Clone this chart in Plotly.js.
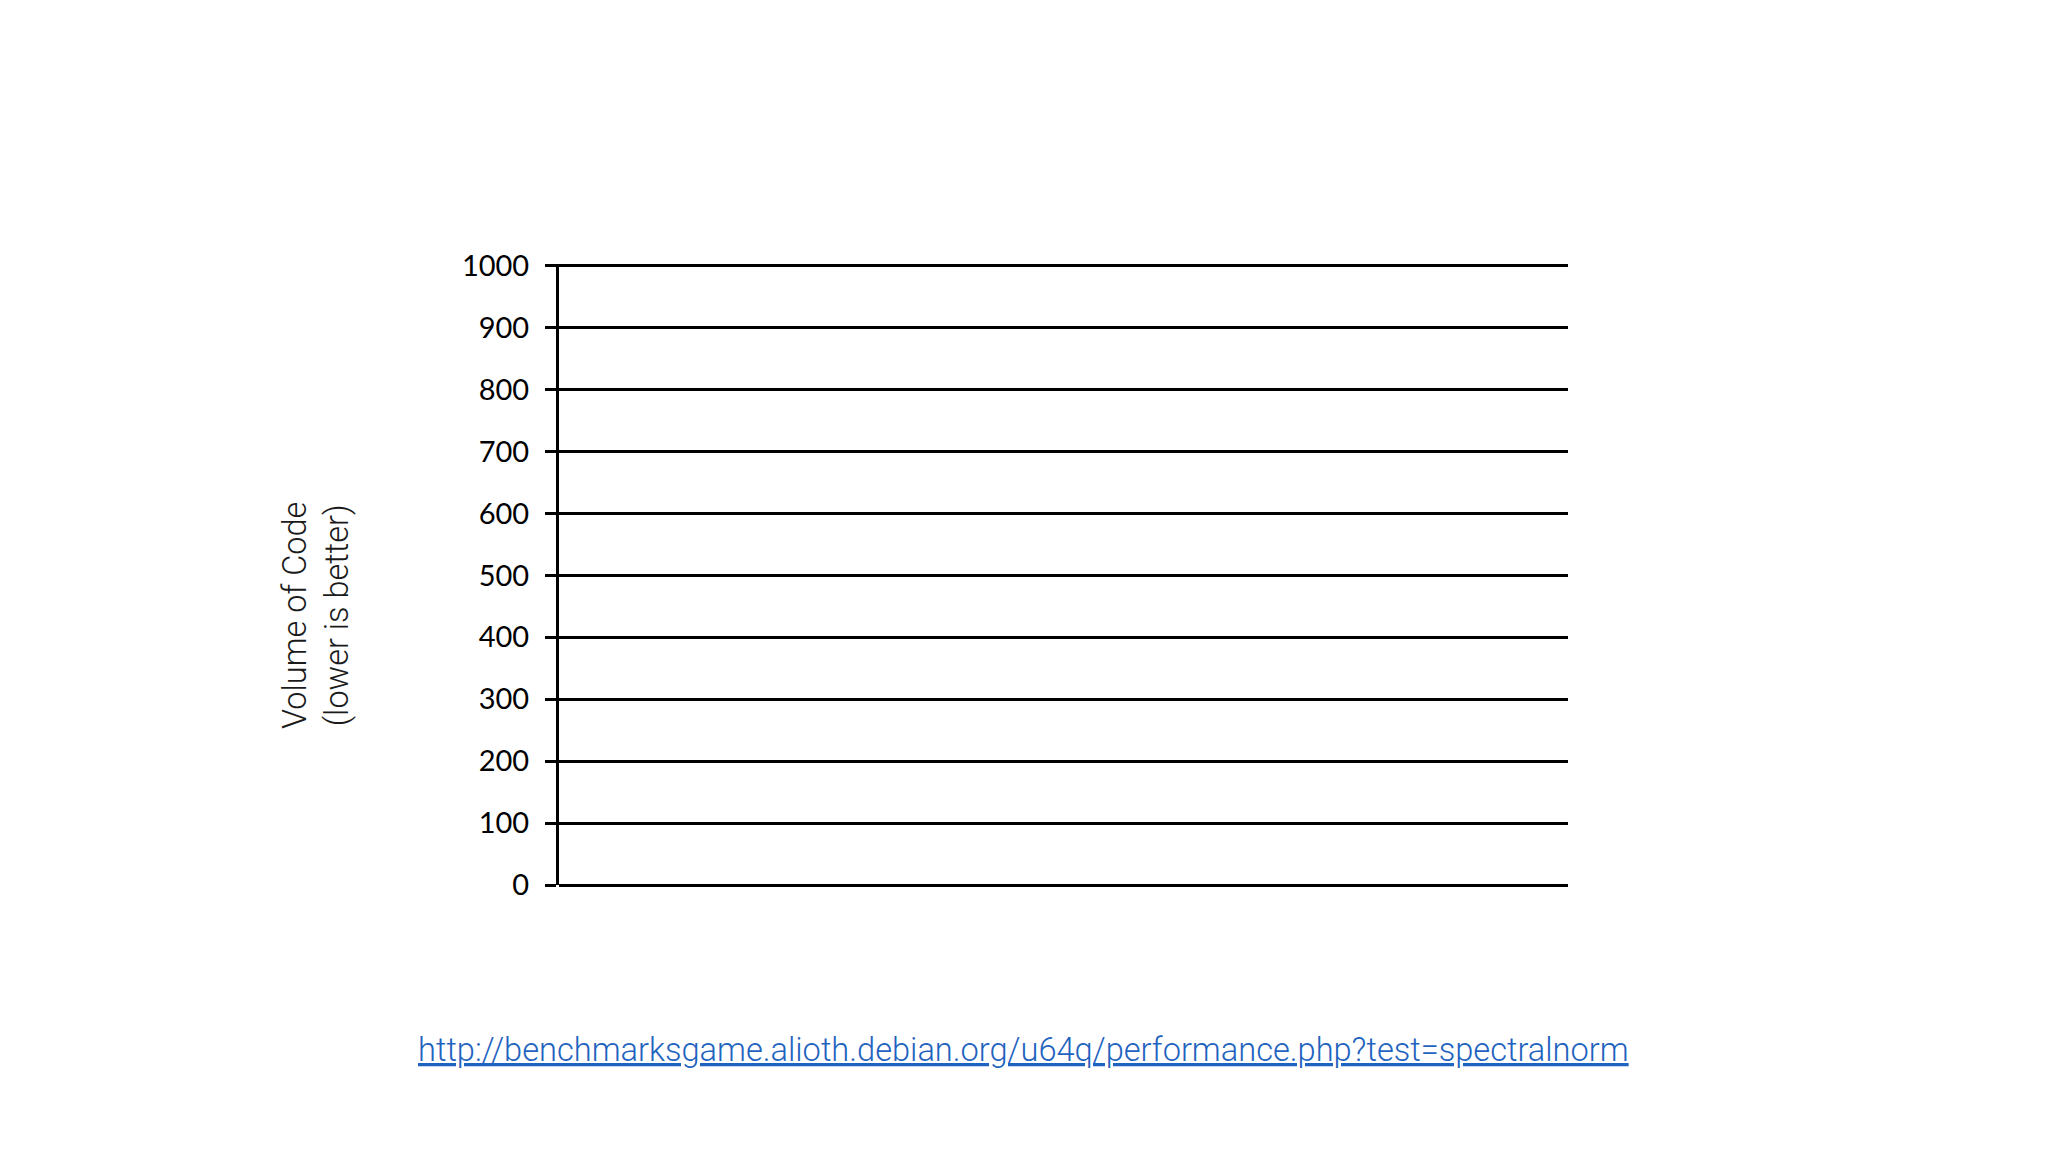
<!DOCTYPE html>
<html>
<head>
<meta charset="utf-8">
<script src="https://cdn.plot.ly/plotly-3.0.1.min.js"></script>
<style>
  html, body { margin: 0; padding: 0; background: #fff; }
  #chart { width: 2048px; height: 1152px; }
</style>
</head>
<body>
<div id="chart"></div>
<script>
// empty benchmark chart - only the axis frame is drawn, no languages yet
var languages = [];
var codeVolume = [];
var yTicks = [0, 100, 200, 300, 400, 500, 600, 700, 800, 900, 1000];
var yTitleLines = ["Volume of Code", "(lower is better)"];
var sourceUrl = "http://benchmarksgame.alioth.debian.org/u64q/performance.php?test=spectralnorm";

var data = [
  {
    type: "bar",
    x: languages,
    y: codeVolume,
    marker: { color: "#000" },
    showlegend: false,
  },
];

var layout = {
  width: 2048,
  height: 1152,
  margin: { l: 559, r: 480, t: 264, b: 267 },
  paper_bgcolor: "#fff",
  plot_bgcolor: "#fff",
  showlegend: false,
  xaxis: {
    range: [0, 1],
    showticklabels: false,
    ticks: "",
    showgrid: false,
    zeroline: false,
    showline: false,
  },
  yaxis: {
    // a little headroom so the 1000 gridline is still drawn
    range: [yTicks[0], yTicks[yTicks.length - 1] + 3],
    tickmode: "array",
    tickvals: yTicks,
    ticktext: yTicks.map(String),
    ticks: "outside",
    ticklen: 11,
    tickwidth: 3,
    tickcolor: "#000",
    showline: true,
    linecolor: "#000",
    linewidth: 3,
    showgrid: true,
    gridcolor: "#000",
    gridwidth: 3,
    zeroline: true,
    zerolinecolor: "#000",
    zerolinewidth: 3,
    ticklabelstandoff: 10,
    tickfont: { family: "Lato", size: 29, color: "#000" },
  },
  annotations: [
    {
      xref: "paper",
      yref: "paper",
      x: (316 - 559) / 1009,
      y: (885 - 616) / 621,
      xanchor: "center",
      yanchor: "middle",
      textangle: -90,
      showarrow: false,
      text: yTitleLines.join("<br>"),
      font: { family: "Roboto", weight: 300, size: 32.5, color: "#1a1a1a" },
    },
    {
      xref: "paper",
      yref: "paper",
      x: (1023.5 - 559) / 1009,
      y: (885 - 1050) / 621,
      xanchor: "center",
      yanchor: "middle",
      showarrow: false,
      text: "<span style='text-decoration:underline'>" + sourceUrl + "</span>",
      font: { family: "Roboto", weight: 300, size: 32.6, color: "#1f63c0" },
    },
  ],
};

Plotly.newPlot("chart", data, layout, { displayModeBar: false, staticPlot: true });
</script>
</body>
</html>
